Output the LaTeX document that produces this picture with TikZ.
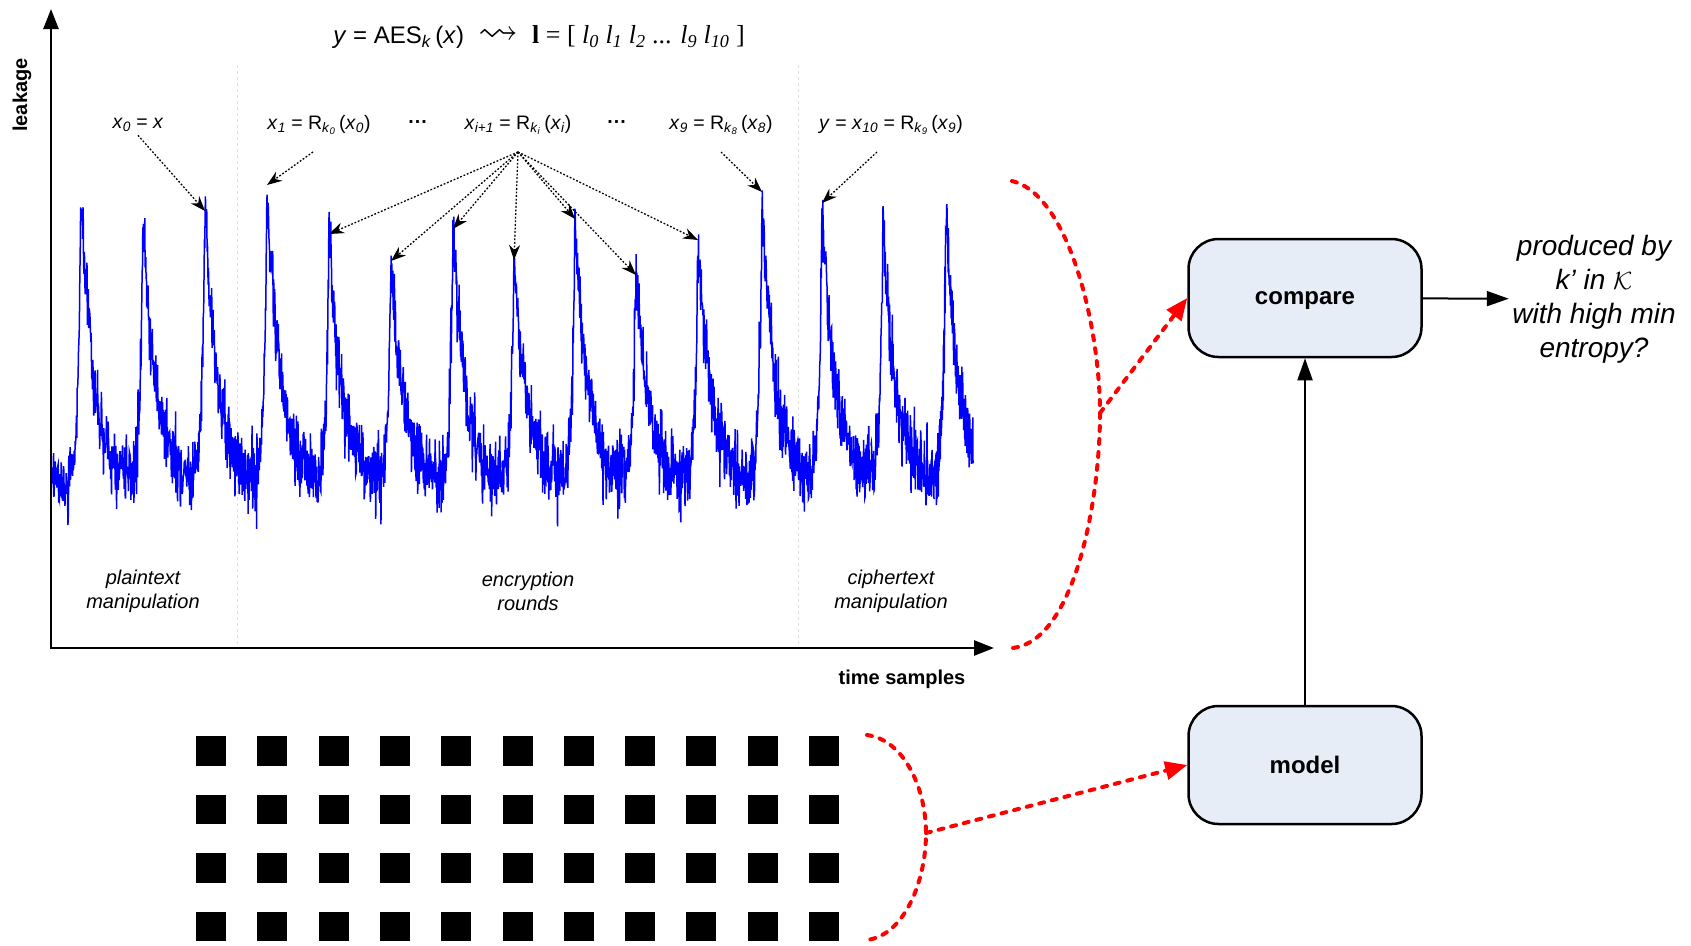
\documentclass[tikz,border=0pt]{standalone}
\usepackage{amsmath}
\usepackage{amssymb}
\usepackage{fontspec}
\setmainfont{Liberation Sans}
\newfontfamily\timesfont{Liberation Serif}
\usetikzlibrary{arrows.meta}
\definecolor{boxfill}{RGB}{230,237,247}
\newcommand{\fsz}[2]{\fontsize{#1}{#2}\selectfont}

\begin{document}
\begin{tikzpicture}[x=1pt,y=-1pt,
  axis/.style={line width=2.5pt,{Triangle[length=20pt,width=15pt]}-{Triangle[length=20pt,width=15pt]}},
  pointer/.style={line width=1.3pt,dash pattern=on 1.8pt off 1.8pt,-{Stealth[length=15pt,width=11pt]}},
  link/.style={line width=2pt,-{Triangle[length=22pt,width=15pt]}},
  redlink/.style={red,line width=4pt,dash pattern=on 5pt off 8pt,line cap=round},
  sep/.style={black!12,line width=1pt,dashed},
  trace/.style={blue,line width=1.5pt},
  box/.style={draw,line width=2.5pt,rounded corners=30pt,fill=boxfill,minimum width=233pt,minimum height=118pt,text depth=0pt,font=\fsz{24}{29}\bfseries},
  lbl/.style={font=\fsz{19.5}{23}},
  phase/.style={font=\fsz{20}{24}\itshape,align=center}]
  \useasboundingbox (0,0) rectangle (1691,945);
  \pgfmathsetseed{3}
  \draw[sep] (237,65) -- (237,648);
  \draw[sep] (798,65) -- (798,648);
  \foreach \pk/\tp/\lo/\hi [count=\i] in {81/200/51/131,143/221/131/193,205/213/193/255,267/187/255/317,329/236/317/379,391/263/379/441,453/231/441/502,514/262/502/563,575/221/563/624,636/277/624/686,698/242/686/750,762/194/750/810,822/205/810/871,883/228/871/934,946/211/934/973}{
    \draw[trace] plot[domain=\lo:\hi,samples=190] (\x,{482-(482-\tp)*((\x<\pk)?exp(max(-9,min(0,(\x-\pk)/3))):exp(max(-9,min(0,(\pk-\x)/13))))+20*rand+40*rand*rand});
    \coordinate (pk\i) at (\pk,\tp-2);}
  \coordinate (origin) at (51,648);
  \coordinate (ytip) at (51,9);
  \coordinate (xtip) at (994,648);
  \draw[axis] (ytip) -- (origin) -- (xtip);
  \node[font=\fsz{20}{24}\bfseries,rotate=90] (leak) at (22,95) {leakage};
  \node[font=\fsz{20}{24}\bfseries] (tsamp) at (902,679) {time samples};
  \node[font=\fsz{24}{29}] (title) at (539,37) {\textit{y} = AES\textsubscript{\textit{k}}\,(\textit{x})\hspace{14pt}{\fsz{40}{40}$\rightsquigarrow$}\hspace{14pt}{\timesfont\fsz{26}{29}\textbf{l} = [ \textit{l}\textsubscript{\textit{0}} \textit{l}\textsubscript{\textit{1}} \textit{l}\textsubscript{\textit{2}} ... \textit{l}\textsubscript{\textit{9}} \textit{l}\textsubscript{\textit{10}} ]}};
  \node[lbl] (lx0) at (138,125) {\textit{x}\textsubscript{\textit{0}} = \textit{x}};
  \node[lbl] (lx1) at (319,125) {\textit{x}\textsubscript{\textit{1}} = R\textsubscript{\textit{k}\textsubscript{\textit{0}}}\,(\textit{x}\textsubscript{\textit{0}})};
  \node[lbl] (dots1) at (418,125) {\textbf{···}};
  \node[lbl] (lxi) at (518,125) {\textit{x}\textsubscript{\textit{i+1}} = R\textsubscript{\textit{k}\textsubscript{\textit{i}}}\,(\textit{x}\textsubscript{\textit{i}})};
  \node[lbl] (dots2) at (617,125) {\textbf{···}};
  \node[lbl] (lx9) at (721,125) {\textit{x}\textsubscript{\textit{9}} = R\textsubscript{\textit{k}\textsubscript{\textit{8}}}\,(\textit{x}\textsubscript{\textit{8}})};
  \node[lbl] (ly) at (891,125) {\textit{y} = \textit{x}\textsubscript{\textit{10}} = R\textsubscript{\textit{k}\textsubscript{\textit{9}}}\,(\textit{x}\textsubscript{\textit{9}})};
  \coordinate (f1) at (313,152);
  \coordinate (fi) at (518,152);
  \coordinate (f9) at (721,152);
  \coordinate (fy) at (877,152);
  \draw[pointer] (lx0.south) -- (pk3);
  \draw[pointer] (f1) -- (pk4);
  \foreach \n in {5,...,11}{\draw[pointer] (fi) -- (pk\n);}
  \draw[pointer] (f9) -- (pk12);
  \draw[pointer] (fy) -- (pk13);
  \node[phase] (plain) at (143,591) {plaintext\\manipulation};
  \node[phase] (rounds) at (528,591) {encryption\\rounds};
  \node[phase] (cipher) at (891,591) {ciphertext\\manipulation};
  \foreach \i in {0,...,3}{\foreach \j in {0,...,10}{\fill (196+61.3*\j,736+58.5*\i) rectangle ++(30,29.5);}}
  \node[box] (compare) at (1305,298) {compare};
  \node[box] (model) at (1305,765) {model};
  \node[align=center,font=\fsz{28}{34}\itshape] (result) at (1594,299) {produced by\\k’ in $\mathcal{K}$\\with high min\\entropy?};
  \draw[link] (model) -- (compare);
  \draw[link] (compare) -- (result);
  \coordinate (b1) at (1100,413);
  \coordinate (b2) at (926,833);
  \draw[redlink] (1012,181) .. controls (1070,195) and (1100,330) .. (b1) .. controls (1100,500) and (1075,640) .. (1013,648);
  \draw[redlink] (867,735) .. controls (905,740) and (926,790) .. (b2) .. controls (926,880) and (905,935) .. (867,940);
  \draw[redlink,-{Triangle[length=22pt,width=18pt]}] (b1) -- (compare.west);
  \draw[redlink,-{Triangle[length=22pt,width=18pt]}] (b2) -- (model.west);
\end{tikzpicture}
\end{document}
